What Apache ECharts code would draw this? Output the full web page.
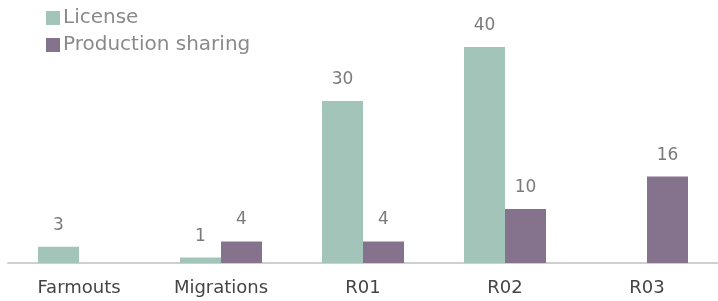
<!DOCTYPE html>
<html>
<head>
<meta charset="utf-8">
<script src="https://cdn.jsdelivr.net/npm/echarts@6/dist/echarts.min.js"></script>
<style>
html, body { margin: 0; padding: 0; background: #fff; }
#chart { width: 718px; height: 301px; }
</style>
</head>
<body>
<div id="chart"></div>
<script>
const categories = ['Farmouts', 'Migrations', 'R01', 'R02', 'R03'];
const licenseValues = [3, 1, 30, 40, null];
const productionSharingValues = [null, 4, 4, 10, 16];

const chart = echarts.init(document.getElementById('chart'));
const font = 'DejaVu Sans';

const labelStyle = {
    show: true,
    position: 'top',
    distance: 13,
    color: '#7a7a7a',
    fontSize: 17,
    fontFamily: font
};

chart.setOption({
    animation: false,
    textStyle: { fontFamily: font },
    legend: {
        orient: 'vertical',
        left: 41,
        top: 3,
        itemWidth: 14,
        itemHeight: 14,
        itemGap: 7,
        icon: 'rect',
        textStyle: { color: '#8a8a8a', fontSize: 20, fontFamily: font, padding: [0, 0, 0, -2] },
        data: ['License', 'Production sharing']
    },
    grid: {
        left: 8,
        right: 0,
        top: 47,
        bottom: 38
    },
    xAxis: {
        type: 'category',
        data: categories,
        axisTick: { show: false },
        axisLine: { lineStyle: { color: '#cfcfcf', width: 2 } },
        axisLabel: { color: '#444', fontSize: 18, margin: 16, fontFamily: font }
    },
    yAxis: {
        type: 'value',
        min: 0,
        max: 40,
        show: false
    },
    series: [
        {
            name: 'License',
            type: 'bar',
            data: licenseValues,
            barWidth: 41,
            barGap: '0%',
            itemStyle: { color: '#a3c4b9' },
            label: labelStyle
        },
        {
            name: 'Production sharing',
            type: 'bar',
            data: productionSharingValues,
            barWidth: 41,
            itemStyle: { color: '#85728d' },
            label: labelStyle
        }
    ]
});
</script>
</body>
</html>
